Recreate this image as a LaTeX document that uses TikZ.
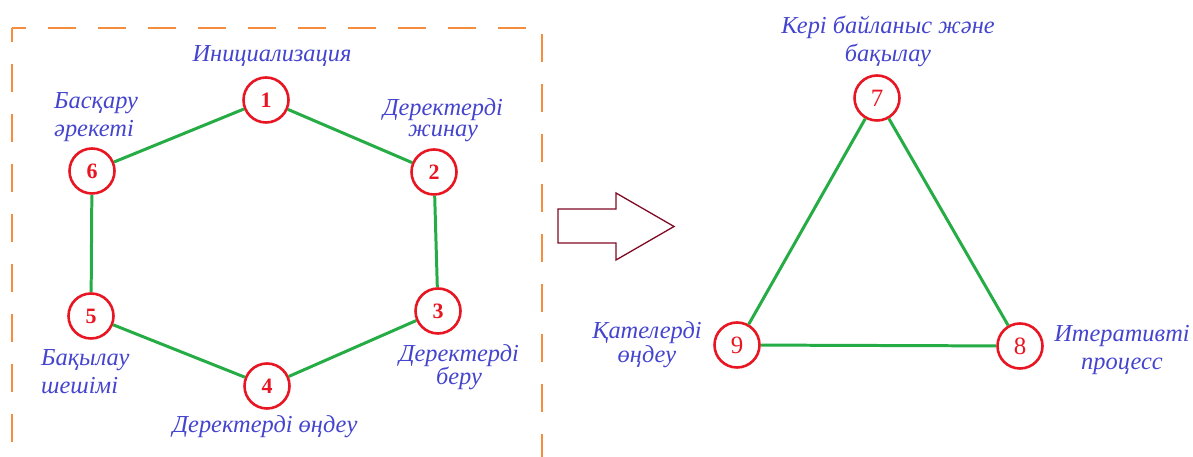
\documentclass[tikz,border=0pt]{standalone}
\usepackage{fontspec}
\setmainfont{Liberation Serif}
\definecolor{lblblue}{RGB}{68,68,206}
\definecolor{ringred}{RGB}{232,22,34}
\definecolor{linkgreen}{RGB}{38,172,68}
\definecolor{frameorange}{RGB}{244,142,62}
\definecolor{arrowmaroon}{RGB}{128,10,36}
\tikzset{
  ring/.style={circle, draw=ringred, line width=2.6pt, fill=white,
    minimum size=45bp, inner sep=0pt, text=ringred},
  ringbold/.style={ring, font=\fontsize{22}{22}\selectfont\bfseries},
  ringplain/.style={ring, font=\fontsize{25}{25}\selectfont},
  link/.style={draw=linkgreen, line width=3pt},
  lbl/.style={text=lblblue, inner sep=0pt, anchor=base,
    font=\fontsize{24.5}{29}\selectfont\itshape},
  tight/.style={font=\fontsize{24.5}{22}\selectfont\itshape},
  frame/.style={draw=frameorange, line width=1.4pt,
    dash pattern=on 28bp off 22bp, dash phase=14bp},
  blockarrow/.style={draw=arrowmaroon, line width=1.3pt, fill=white, line join=miter}
}
\begin{document}
\begin{tikzpicture}[x=1bp, y=-1bp]
\useasboundingbox (0,0) rectangle (1193,457);

% dashed frame round the six-step cycle, open at the bottom
\coordinate (fbl) at (12,457);
\coordinate (ftl) at (12,28);
\coordinate (ftr) at (542,28);
\coordinate (fbr) at (542,457);
\draw[frame] (ftl) -- (fbl);
\draw[frame] (ftl) -- (ftr) -- (fbr);

% six-step cycle
\node[ringbold] (n1) at (266,100) {1};
\node[ringbold] (n2) at (434,172) {2};
\node[ringbold] (n3) at (438,311) {3};
\node[ringbold] (n4) at (267,386) {4};
\node[ringbold] (n5) at (91,316) {5};
\node[ringbold] (n6) at (92,171) {6};
\path[link] (n1) -- (n2) (n2) -- (n3) (n3) -- (n4)
            (n4) -- (n5) (n5) -- (n6) (n6) -- (n1);

% labels (node positions give the baseline of the last line)
\node[lbl] (t1) at (272,62) {Инициализация};
\node[lbl, tight, align=center] (t2) at (443,137) {Деректерді\\жинау};
\node[lbl, tight, align=center] (t3) at (459,385) {Деректерді\\беру};
\node[lbl] (t4) at (265,433) {Деректерді өңдеу};
\node[lbl, align=left, anchor=base west] (t5) at (41,394) {Бақылау\\шешімі};
\node[lbl, align=left, anchor=base west] (t6) at (54,137) {Басқару\\әрекеті};

% block arrow between the two parts
\coordinate (a1) at (558,209);
\coordinate (a2) at (616,209);
\coordinate (a3) at (616,193);
\coordinate (a4) at (674,226.5);
\coordinate (a5) at (616,260);
\coordinate (a6) at (616,243);
\coordinate (a7) at (558,243);
\draw[blockarrow] (a1) -- (a2) -- (a3) -- (a4) -- (a5) -- (a6) -- (a7) -- cycle;

% three-step cycle
\node[ringplain] (n7) at (877,98) {7};
\node[ringplain] (n8) at (1020,346) {8};
\node[ringplain] (n9) at (737,345) {9};
\path[link] (n7) -- (n8) (n8) -- (n9) (n9) -- (n7);

\node[lbl, align=center] (t7) at (888,62) {Кері байланыс және\\бақылау};
\node[lbl, align=center] (t8) at (1122,370) {Итеративті\\процесс};
\node[lbl, align=center, font=\fontsize{24.5}{25}\selectfont\itshape] (t9) at (647,363) {Қателерді\\өңдеу};
\end{tikzpicture}
\end{document}
